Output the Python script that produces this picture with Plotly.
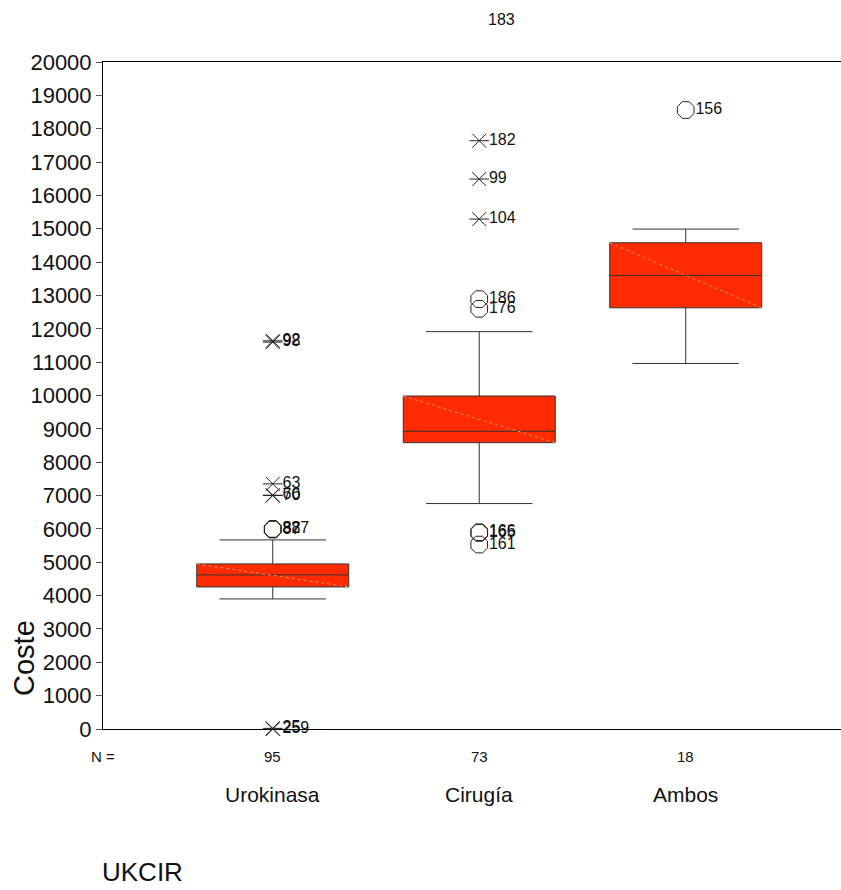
import plotly.graph_objects as go

# ---- data ----
categories = ["Urokinasa", "Cirugía", "Ambos"]
n_counts = ["95", "73", "18"]
q1 = [4260, 8585, 12630]
median = [4620, 8926, 13600]
q3 = [4950, 9985, 14580]
lower_fence = [3900, 6760, 10960]
upper_fence = [5670, 11915, 14990]

# extreme outliers (asterisks)
ext_cat = [0, 0, 0, 0, 0, 0, 0, 1, 1, 1, 1]
ext_val = [11640, 11600, 7350, 7010, 7000, 20, 0, 17640, 16490, 15290, 21270]
ext_lab = ["92", "98", "63", "66", "70", "25", "259", "182", "99", "104", "183"]

# mild outliers (circles)
mild_cat = [0, 0, 0, 1, 1, 1, 1, 1, 2]
mild_val = [6000, 5990, 5980, 12890, 12600, 5900, 5880, 5530, 18560]
mild_lab = ["327", "88", "87", "186", "176", "166", "165", "161", "156"]

y_ticks = list(range(0, 20001, 1000))
y_max = 20000

# ---- layout constants (pixels) ----
W, H = 841, 890
L, T, B_Y = 103, 62, 729  # plot left, top, bottom (px)
plot_h = B_Y - T
def py(p):
    return (B_Y - p) / plot_h

box_fill = "#FF2B00"
font_fam = "Arial, Liberation Sans, sans-serif"
box_w = 0.736
ink = "#222222"

fig = go.Figure()

for i, c in enumerate(categories):
    fig.add_trace(go.Box(
        x=[i], q1=[q1[i]], median=[median[i]], q3=[q3[i]],
        lowerfence=[lower_fence[i]], upperfence=[upper_fence[i]],
        width=box_w, whiskerwidth=0.7, fillcolor=box_fill,
        line=dict(color="#333333", width=1), boxpoints=False,
        showlegend=False, hoverinfo="skip",
    ))
    # faint diagonal artifact across the box
    fig.add_trace(go.Scatter(
        x=[i - box_w / 2, i + box_w / 2], y=[q3[i], q1[i]], mode="lines",
        line=dict(color="#FF8A70", width=1, dash="dot"),
        showlegend=False, hoverinfo="skip",
    ))

# asterisk markers (x + horizontal line), only inside range
ex_in = [(c, v, t) for c, v, t in zip(ext_cat, ext_val, ext_lab) if v <= y_max]
ex_out = [(c, v, t) for c, v, t in zip(ext_cat, ext_val, ext_lab) if v > y_max]
for sym in ["x-thin-open", "line-ew-open"]:
    fig.add_trace(go.Scatter(
        x=[c for c, v, t in ex_in], y=[v for c, v, t in ex_in], mode="markers",
        marker=dict(symbol=sym, size=14, color=ink, line=dict(color=ink, width=1)),
        cliponaxis=False, showlegend=False, hoverinfo="skip",
    ))
# circle markers
fig.add_trace(go.Scatter(
    x=mild_cat, y=mild_val, mode="markers",
    marker=dict(symbol="octagon-open", size=18, color=ink, line=dict(color=ink, width=1)),
    cliponaxis=False, showlegend=False, hoverinfo="skip",
))
# outlier labels (inside range)
fig.add_trace(go.Scatter(
    x=[c for c, v, t in ex_in] + mild_cat, y=[v for c, v, t in ex_in] + mild_val,
    mode="markers+text", text=[t for c, v, t in ex_in] + mild_lab,
    textposition="middle right",
    marker=dict(size=14, color="rgba(0,0,0,0)"),
    textfont=dict(family=font_fam, size=16, color="#111111"),
    cliponaxis=False, showlegend=False, hoverinfo="skip",
))

annotations = []
# labels of outliers beyond the axis range (marker clipped, label visible)
for c, v, t in ex_out:
    annotations.append(dict(text=t, xref="x", x=c, xshift=7, yref="paper", y=v / y_max,
                            showarrow=False, xanchor="left", yanchor="middle",
                            font=dict(family=font_fam, size=16, color="#111")))
annotations.append(dict(text="N =", xref="paper", x=0.0, y=py(756), yref="paper",
                        showarrow=False, xanchor="center", yanchor="middle",
                        font=dict(family=font_fam, size=15, color="#111")))
for i, c in enumerate(categories):
    annotations.append(dict(text=n_counts[i], xref="x", x=i, yref="paper", y=py(756),
                            showarrow=False, xanchor="center", yanchor="middle",
                            font=dict(family=font_fam, size=15, color="#111")))
    annotations.append(dict(text=c, xref="x", x=i, yref="paper", y=py(794),
                            showarrow=False, xanchor="center", yanchor="middle",
                            font=dict(family=font_fam, size=21, color="#111")))
annotations.append(dict(text="Coste", xref="paper", x=(24 - L) / (W - L), yref="paper", y=py(658),
                        textangle=-90, showarrow=False, xanchor="center", yanchor="middle",
                        font=dict(family=font_fam, size=29, color="#111")))
annotations.append(dict(text="UKCIR", xref="paper", x=(100 - L) / (W - L), yref="paper", y=py(872),
                        showarrow=False, xanchor="left", yanchor="middle",
                        font=dict(family=font_fam, size=26, color="#111")))

fig.update_layout(
    width=W, height=H,
    margin=dict(l=L, r=0, t=T, b=H - B_Y),
    plot_bgcolor="white", paper_bgcolor="white",
    annotations=annotations,
    xaxis=dict(range=[-0.822, 2.752], showticklabels=False, ticks="", showgrid=False,
               zeroline=False, showline=True, linecolor="black", linewidth=1, mirror=True),
    yaxis=dict(range=[0, y_max], tickvals=y_ticks, tickformat="d", ticks="outside", ticklen=6,
               tickcolor="#555555", showgrid=False, zeroline=False, showline=True,
               linecolor="black", linewidth=1,
               tickfont=dict(family=font_fam, size=22, color="#111")),
    font=dict(family=font_fam),
)

fig.write_html("out.html")
